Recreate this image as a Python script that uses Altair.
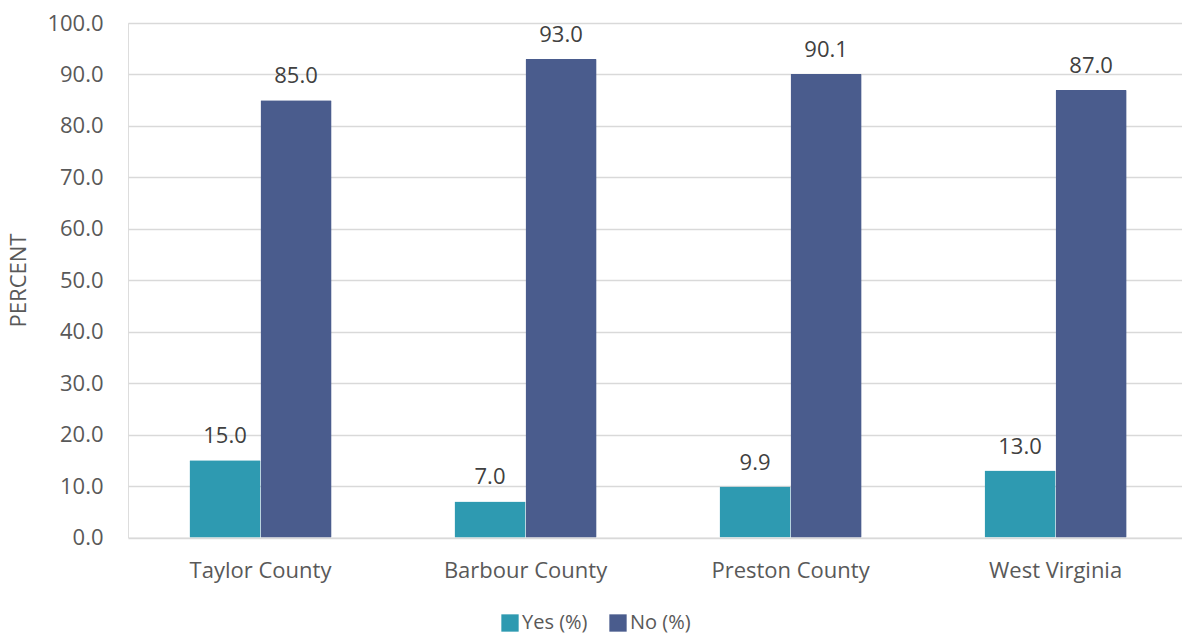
import altair as alt
import pandas as pd

# Survey responses by area
areas = ["Taylor County", "Barbour County", "Preston County", "West Virginia"]
yes_pct = [15.0, 7.0, 9.9, 13.0]
no_pct = [85.0, 93.0, 90.1, 87.0]
series = ["Yes (%)", "No (%)"]
colors = ["#2E9AB1", "#4A5C8D"]
y_ticks = [0, 10, 20, 30, 40, 50, 60, 70, 80, 90, 100]

rows = []
for a, y, n in zip(areas, yes_pct, no_pct):
    rows.append({"area": a, "answer": series[0], "pct": y})
    rows.append({"area": a, "answer": series[1], "pct": n})
df = pd.DataFrame(rows)

FONT = "Open Sans"
GRAY = "#595959"

x_enc = alt.X(
    "area:N",
    sort=areas,
    title=None,
    scale=alt.Scale(paddingInner=0.464, paddingOuter=0.2205, align=0.526),
    axis=alt.Axis(
        labelAngle=0,
        labelFontSize=22,
        labelFont=FONT,
        labelColor=GRAY,
        labelPadding=23,
        ticks=False,
        domain=False,
        grid=False,
    ),
)
xoff_enc = alt.XOffset(
    "answer:N", sort=series, scale=alt.Scale(paddingInner=0, paddingOuter=0)
)
y_enc = alt.Y(
    "pct:Q",
    scale=alt.Scale(domain=[0, 100], nice=False),
    axis=alt.Axis(
        values=y_ticks,
        format=".1f",
        title="PERCENT",
        titleFont=FONT,
        titleFontSize=22,
        titleFontWeight="normal",
        titleColor=GRAY,
        titleX=-110,
        titleY=257,
        titleAngle=-90,
        titleBaseline="middle",
        labelFont=FONT,
        labelFontSize=22,
        labelColor=GRAY,
        labelPadding=25,
        ticks=False,
        domain=False,
        gridColor="#D9D9D9",
        gridWidth=1.5,
    ),
)

bars = alt.Chart(df).mark_bar(cornerRadius=1).encode(
    x=x_enc,
    xOffset=xoff_enc,
    y=y_enc,
    color=alt.Color(
        "answer:N",
        sort=series,
        scale=alt.Scale(domain=series, range=colors),
        legend=alt.Legend(
            title=None,
            orient="none",
            direction="horizontal",
            legendX=372,
            legendY=590,
            symbolType="square",
            symbolSize=300,
            symbolStrokeWidth=0,
            labelFont=FONT,
            labelFontSize=20,
            labelColor=GRAY,
            columnPadding=20,
            labelOffset=2,
        ),
    ),
)

labels = alt.Chart(df).mark_text(
    baseline="alphabetic", dy=-17, fontSize=22, font=FONT, color="#404040"
).encode(
    x=alt.X("area:N", sort=areas),
    xOffset=xoff_enc,
    y="pct:Q",
    text=alt.Text("pct:Q", format=".1f"),
)

chart = (
    alt.layer(bars, labels)
    .properties(
        width=1054,
        height=514.5,
        autosize=alt.AutoSizeParams(type="none"),
        padding={"left": 128, "top": 23, "right": 0, "bottom": 100},
    )
    .configure_view(stroke=None)
    .configure(background="white")
)

chart.save("out.html", embed_options={"renderer": "svg", "actions": False})
